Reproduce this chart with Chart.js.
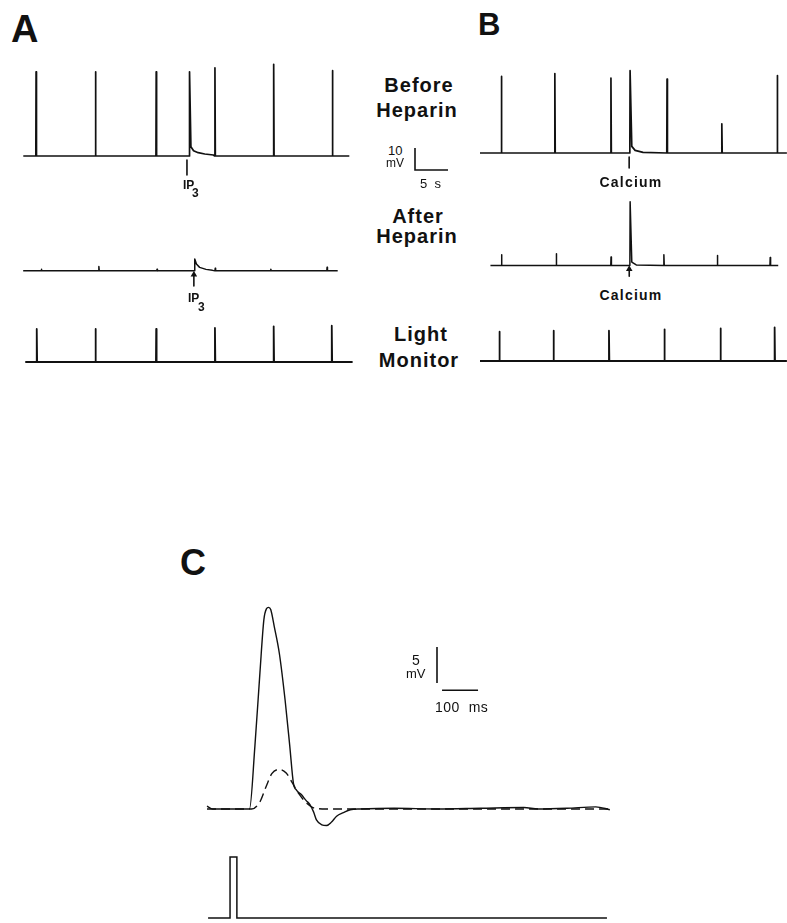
<!DOCTYPE html>
<html>
<head>
<meta charset="utf-8">
<script src="https://cdn.jsdelivr.net/npm/chart.js@4.4.1/dist/chart.umd.min.js"></script>
<style>
  html, body { margin: 0; padding: 0; background: #fff; overflow: hidden; }
  #fig { position: relative; width: 787px; height: 923px; }
  #fig canvas { position: absolute; }
  .lbl { position: absolute; white-space: pre; color: #111; font-family: "Liberation Sans", Arial, Helvetica, sans-serif; }
</style>
</head>
<body>
<div id="fig"></div>
<script>
// panel A: time in s, voltage in mV (light monitor in arbitrary units)
var aBeforeSpan = [0.8, 50.2];
var aBeforeSpikeT = [2.7, 11.7, 20.9, 25.95, 29.8, 38.7, 47.6];
var aBeforeSpikeMV = [38.3, 38.3, 38.3, 38.3, 40.1, 41.7, 38.8];
var aBeforeIP3Tail = [[26.2, 4.2], [26.6, 2.4], [27.3, 1.5], [28.3, 0.9], [29.6, 0.45]];

var aAfterSpan = [0, 49.2];
var aAfterSpikeT = [2.8, 11.8, 20.9, 26.8, 30.0, 38.7, 47.5];
var aAfterSpikeMV = [1.0, 2.6, 1.0, 7.1, 1.5, 1.0, 2.1];
var aAfterIP3Tail = [[27.1, 4.1], [27.6, 2.1], [28.6, 0.9], [29.6, 0.3]];

var aLightSpan = [1.1, 50.7];
var aFlashT = [2.8, 11.7, 20.9, 29.8, 38.7, 47.5];
var aFlashAmp = [15.0, 15.0, 15.0, 15.5, 16.2, 16.5];

var aIP3Mark = [25.6, 26.7];          // injection times (before / after heparin)

// panel B
var bBeforeSpan = [0, 46.5];
var bBeforeSpikeT = [3.2, 11.3, 19.8, 22.7, 28.3, 36.6, 45.0];
var bBeforeSpikeMV = [34.8, 36.1, 34.1, 37.4, 33.6, 13.3, 35.2];
var bBeforeCaTail = [[23.0, 3.0], [23.5, 1.2], [24.7, 0.3]];

var bAfterSpan = [0.8, 46.0];
var bAfterSpikeT = [2.5, 11.1, 19.7, 22.7, 28.0, 36.4, 44.7];
var bAfterSpikeMV = [5.6, 6.1, 4.4, 32.9, 5.6, 5.2, 4.1];
var bAfterCaTail = [[23.0, 1.8], [23.7, 0.3]];

var bLightSpan = [0, 46.5];
var bFlashT = [2.9, 11.1, 19.5, 27.9, 36.4, 44.6];
var bFlashAmp = [13.3, 13.8, 13.8, 14.4, 14.8, 15.3];

var bCaMark = [22.6, 22.6];

// panel C: time in ms, voltage in mV
var cSolid = [[0, 0.4], [16, 0], [118, 0], [133, 8.7], [147, 18.9], [158, 26.3], [165, 27.8], [171, 28.0],
  [177, 27.7], [187, 25.3], [201, 21.6], [217, 15.1], [230, 8.7], [240, 3.6], [249, 2.6], [262, 2.0],
  [275, 1.2], [286, 0.6], [296, -0.4], [304, -1.5], [319, -2.2], [332, -2.3], [346, -1.8], [360, -1.0],
  [379, -0.5], [398, -0.1], [425, 0], [520, 0.1], [640, 0], [760, 0.1], [880, 0.2], [920, 0],
  [1000, 0.1], [1080, 0.3], [1119, -0.1]];
var cDashed = [[0, 0], [124, 0], [147, 1.0], [164, 3.1], [180, 4.9], [201, 5.5], [220, 5.0], [235, 3.8],
  [254, 2.2], [277, 0.8], [300, 0.1], [332, 0], [1119, 0]];
var cStim = [[3, 0], [64, 0], [64, 1], [83, 1], [83, 0], [1111, 0]];

var INK = '#111';
var fig = document.getElementById('fig');

// canvas box from a data origin (pixel of x=0,y=0) and pixels per unit
function place(origin, ppx, ppy, xr, yr) {
  var left = Math.round(origin[0] + xr[0] * ppx), right = Math.round(origin[0] + xr[1] * ppx);
  var top = Math.round(origin[1] - yr[1] * ppy), bottom = Math.round(origin[1] - yr[0] * ppy);
  return {
    left: left, top: top, width: right - left, height: bottom - top,
    xMin: (left - origin[0]) / ppx, xMax: (right - origin[0]) / ppx,
    yMin: (origin[1] - bottom) / ppy, yMax: (origin[1] - top) / ppy
  };
}

function pts(list) { return list.map(function (p) { return { x: p[0], y: p[1] }; }); }

function spikeTrace(span, times, amps, tailAt, tail) {
  var out = [{ x: span[0], y: 0 }];
  times.forEach(function (t, i) {
    out.push({ x: t, y: 0 }, { x: t + 0.04, y: amps[i] });
    if (i === tailAt) out = out.concat(pts(tail));
    else out.push({ x: t + 0.1, y: 0 });
  });
  out.push({ x: span[1], y: 0 });
  return out;
}

function line(data, extra) {
  return Object.assign({
    data: data, showLine: true, borderColor: INK, backgroundColor: INK,
    borderWidth: 1.7, pointRadius: 0, tension: 0, fill: false,
    borderJoinStyle: 'round', borderCapStyle: 'butt'
  }, extra || {});
}

function draw(box, datasets) {
  var c = document.createElement('canvas');
  c.width = box.width; c.height = box.height;
  c.style.left = box.left + 'px'; c.style.top = box.top + 'px';
  fig.appendChild(c);
  new Chart(c, {
    type: 'scatter',
    data: { datasets: datasets },
    options: {
      responsive: false, animation: false, devicePixelRatio: 1,
      layout: { padding: 0 },
      plugins: { legend: { display: false }, tooltip: { enabled: false } },
      scales: {
        x: { type: 'linear', display: false, min: box.xMin, max: box.xMax },
        y: { type: 'linear', display: false, min: box.yMin, max: box.yMax }
      }
    }
  });
}

function arrow(t, y0, y1, head) {
  return line([{ x: t, y: y0 }, { x: t, y: y1 }], {
    borderWidth: 1.6, pointStyle: 'triangle', pointRadius: head ? [2.2, 0] : 0
  });
}

// panel A traces
var PXS = 6.6, PXMV = 2.2;
draw(place([18, 156], PXS, PXMV, [-2, 52], [-11, 44]), [
  line(spikeTrace(aBeforeSpan, aBeforeSpikeT, aBeforeSpikeMV, 3, aBeforeIP3Tail)),
  arrow(aIP3Mark[0], -1.8, -8.6, false)
]);
draw(place([18, 270.5], PXS, PXMV, [-2, 52], [-11, 10]), [
  line(spikeTrace(aAfterSpan, aAfterSpikeT, aAfterSpikeMV, 3, aAfterIP3Tail), { borderWidth: 1.5 }),
  arrow(aIP3Mark[1], -2.3, -9.1, true)
]);
draw(place([18, 362], PXS, PXMV, [-2, 52], [-2, 18]), [
  line(spikeTrace(aLightSpan, aFlashT, aFlashAmp, -1, []), { borderWidth: 1.8 })
]);

// panel B traces
draw(place([480, 153], PXS, PXMV, [-1, 47], [-9, 40]), [
  line(spikeTrace(bBeforeSpan, bBeforeSpikeT, bBeforeSpikeMV, 3, bBeforeCaTail)),
  arrow(bCaMark[0], -1.8, -6.8, false)
]);
draw(place([480, 269], PXS, PXMV, [-1, 47], [-8, 35]), [
  line(spikeTrace(bAfterSpan, bAfterSpikeT, bAfterSpikeMV, 3, bAfterCaTail), { borderWidth: 1.5 }),
  arrow(bCaMark[1], -1.8, -5.5, true)
]);
draw(place([480, 361], PXS, PXMV, [-1, 47], [-2, 17]), [
  line(spikeTrace(bLightSpan, bFlashT, bFlashAmp, -1, []), { borderWidth: 1.8 })
]);

// 10 mV / 5 s scale bar
draw(place([415, 170], PXS, PXMV, [-0.5, 5.5], [-0.6, 10.6]), [
  line(pts([[0, 10], [0, 0], [5, 0]]), { borderWidth: 1.6, borderJoinStyle: 'miter' })
]);

// panel C
var PXMS = 0.36, PXMV_C = 7.2;
draw(place([207, 809], PXMS, PXMV_C, [-10, 1130], [-4, 31]), [
  line(pts(cSolid), { borderWidth: 1.4, cubicInterpolationMode: 'monotone' }),
  line(pts(cDashed), { borderWidth: 1.4, cubicInterpolationMode: 'monotone', borderDash: [9, 5] })
]);
draw(place([207, 918], PXMS, 61, [-10, 1130], [-0.08, 1.1]), [
  line(pts(cStim), { borderWidth: 1.5, borderJoinStyle: 'miter' })
]);
// 5 mV / 100 ms scale bar
draw(place([437, 683], PXMS, PXMV_C, [-10, 125], [-1.6, 5.4]), [
  line(pts([[0, 0], [0, 5]]), { borderWidth: 1.6 }),
  line(pts([[14, -1], [114, -1]]), { borderWidth: 1.4 })
]);

// text
function label(text, x, base, size, o) {
  o = o || {};
  var d = document.createElement('div');
  d.className = 'lbl';
  d.textContent = text;
  d.style.fontSize = size + 'px';
  d.style.lineHeight = size + 'px';
  d.style.fontWeight = o.bold ? 'bold' : 'normal';
  if (o.ls) d.style.letterSpacing = o.ls + 'px';
  d.style.top = (base - size * 0.846) + 'px';
  d.style.left = x + 'px';
  if (o.center) d.style.transform = 'translateX(-50%)';
  fig.appendChild(d);
}

label('A', 11, 42, 38, { bold: true });
label('B', 478, 35, 31, { bold: true });
label('C', 180, 575, 36, { bold: true });

var side = { bold: true, center: true, ls: 1 };
label('Before', 419, 92, 20, side);
label('Heparin', 417, 117, 20, side);
label('After', 418, 223, 20, side);
label('Heparin', 417, 243, 20, side);
label('Light', 421, 341, 20, side);
label('Monitor', 419, 367, 20, side);

label('10', 388, 155, 13);
label('mV', 386, 167, 12);
label('5  s', 420, 188, 13);

label('IP', 183, 189, 12, { bold: true });
label('3', 192, 197, 12, { bold: true });
label('IP', 188, 302, 12, { bold: true });
label('3', 198, 311, 12, { bold: true });

label('Calcium', 631, 187, 14, { bold: true, center: true, ls: 1.2 });
label('Calcium', 631, 300, 14, { bold: true, center: true, ls: 1.2 });

label('5', 412, 665, 14);
label('mV', 406, 678, 13);
label('100  ms', 435, 712, 14, { ls: 0.5 });
</script>
</body>
</html>
